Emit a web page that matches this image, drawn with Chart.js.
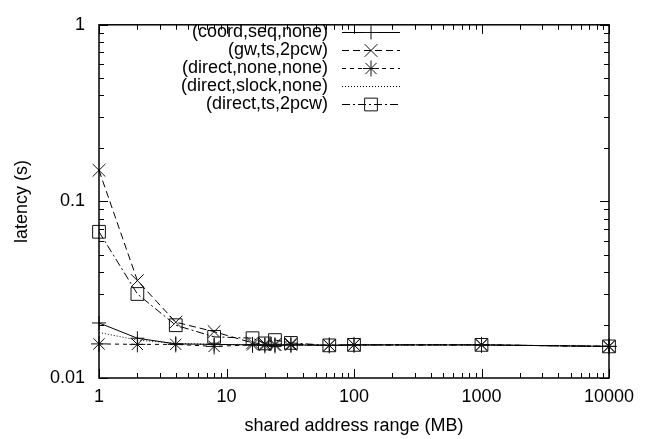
<!DOCTYPE html>
<html>
<head>
<meta charset="utf-8">
<script src="https://cdn.jsdelivr.net/npm/chart.js"></script>
<style>
  html, body { margin: 0; padding: 0; background: #fff; }
  #wrap { width: 647px; height: 439px; }
</style>
</head>
<body>
<div id="wrap"><canvas id="myChart" width="647" height="439"></canvas></div>
<script>
// shared address range (MB)
const xValues = [1, 2, 4, 8, 16, 20, 24, 32, 64, 100, 1000, 10000];

// latency (s) per configuration
const coordSeqNone = [0.0205, 0.0168, 0.0156, 0.0155, 0.0154, 0.0154, 0.0154, 0.0154, 0.0153, 0.0154, 0.0154, 0.0151];
const gwTs2pcw = [0.150, 0.0356, 0.0207, 0.0183, 0.0158, 0.0156, 0.0155, 0.0156, 0.0153, 0.0154, 0.0154, 0.0151];
const directNoneNone = [0.0156, 0.0155, 0.0155, 0.0151, 0.0154, 0.0153, 0.0153, 0.0154, 0.0153, 0.0154, 0.0154, 0.0151];
const directSlockNone = [0.0181, 0.0164, 0.0157, 0.0155, 0.0154, 0.0154, 0.0154, 0.0154, 0.0153, 0.0154, 0.0154, 0.0151];
const directTs2pcw = [0.0673, 0.0299, 0.0199, 0.0171, 0.0168, 0.0157, 0.0164, 0.0158, 0.0153, 0.0154, 0.0154, 0.0151];

const seriesLabels = ['(coord,seq,none)', '(gw,ts,2pcw)', '(direct,none,none)', '(direct,slock,none)', '(direct,ts,2pcw)'];
const xTickValues = [1, 10, 100, 1000, 10000];
const yTickValues = [0.01, 0.1, 1];

const FONT = '"Liberation Sans", Arial, Helvetica, sans-serif';
const FSIZE = 18;
const INK = '#000';

const styles = [
  { dash: [], point: 'cross', r: 7 },
  { dash: [7, 4], point: 'crossRot', r: 9 },
  { dash: [4, 4], point: 'star', r: 8 },
  { dash: [1, 2], point: false, r: 0 },
  { dash: [8, 3, 2, 3], point: 'rect', r: 9 }
];
const seriesData = [coordSeqNone, gwTs2pcw, directNoneNone, directSlockNone, directTs2pcw];

const datasets = seriesData.map((vals, i) => ({
  label: seriesLabels[i],
  data: vals.map((v, j) => ({ x: xValues[j], y: v })),
  borderColor: INK,
  borderWidth: 1,
  borderDash: styles[i].dash,
  pointStyle: styles[i].point,
  pointRadius: styles[i].r,
  pointBorderColor: '#111',
  pointBackgroundColor: 'rgba(0,0,0,0)',
  pointBorderWidth: 1,
  fill: false,
  tension: 0,
  clip: false
}));

// gnuplot-like frame with inward ticks on all four sides + legend
const framePlugin = {
  id: 'frame',
  afterDatasetsDraw(chart) {
    const ctx = chart.ctx;
    const a = chart.chartArea;
    const xs = chart.scales.x, ys = chart.scales.y;
    ctx.save();
    ctx.strokeStyle = INK;
    ctx.lineWidth = 1.5;
    ctx.setLineDash([]);
    ctx.strokeRect(a.left, a.top, a.right - a.left, a.bottom - a.top);

    ctx.lineWidth = 1;
    const tick = (vals, len, isX) => {
      vals.forEach(v => {
        if (isX) {
          const p = Math.round(xs.getPixelForValue(v)) + 0.5;
          ctx.beginPath();
          ctx.moveTo(p, a.bottom); ctx.lineTo(p, a.bottom - len);
          ctx.moveTo(p, a.top); ctx.lineTo(p, a.top + len);
          ctx.stroke();
        } else {
          const p = Math.round(ys.getPixelForValue(v)) + 0.5;
          ctx.beginPath();
          ctx.moveTo(a.left, p); ctx.lineTo(a.left + len, p);
          ctx.moveTo(a.right, p); ctx.lineTo(a.right - len, p);
          ctx.stroke();
        }
      });
    };
    const minors = (lo, hi) => {
      const out = [];
      for (let d = lo; d < hi; d *= 10) for (let k = 2; k <= 9; k++) out.push(d * k);
      return out;
    };
    tick(xTickValues, 9, true);
    tick(minors(1, 10000), 5, true);
    tick(yTickValues, 9, false);
    tick(minors(0.01, 1), 5, false);

    // legend
    ctx.font = FSIZE + 'px ' + FONT;
    ctx.textAlign = 'right';
    ctx.textBaseline = 'middle';
    const rowY = [32, 50, 68, 86, 104];
    const x0 = 342, x1 = 400, xm = 371, textRight = 328;
    seriesLabels.forEach((lab, i) => {
      const y = rowY[i];
      ctx.fillStyle = INK;
      ctx.fillText(lab, textRight, y);
      ctx.strokeStyle = INK;
      ctx.beginPath();
      ctx.setLineDash(styles[i].dash);
      ctx.moveTo(x0, y + 0.5); ctx.lineTo(x1, y + 0.5);
      ctx.stroke();
      ctx.setLineDash([]);
      if (styles[i].point) {
        ctx.fillStyle = 'rgba(0,0,0,0)';
        ctx.strokeStyle = '#111';
        Chart.helpers.drawPoint(ctx, {
          pointStyle: styles[i].point,
          radius: styles[i].r,
          borderWidth: 1
        }, xm, y + 0.5);
      }
    });
    ctx.restore();
  }
};

new Chart(document.getElementById('myChart'), {
  type: 'line',
  data: { datasets: datasets },
  options: {
    responsive: false,
    animation: false,
    layout: { padding: { top: 11, right: 38, bottom: 2, left: 0 } },
    plugins: { legend: { display: false }, tooltip: { enabled: false } },
    scales: {
      x: {
        type: 'logarithmic',
        min: 1, max: 10000,
        grid: { display: false, drawTicks: false },
        border: { display: false },
        afterBuildTicks: s => { s.ticks = xTickValues.map(v => ({ value: v })); },
        ticks: {
          color: INK, padding: 8, maxRotation: 0, autoSkip: false,
          font: { family: FONT, size: FSIZE },
          callback: v => String(v)
        },
        title: {
          display: true, text: 'shared address range (MB)', color: INK,
          font: { family: FONT, size: FSIZE }, padding: { top: 4, bottom: 0 }
        },
        afterFit: s => { s.height = 439 - 378 - 2; }
      },
      y: {
        type: 'logarithmic',
        min: 0.01, max: 1,
        grid: { display: false, drawTicks: false },
        border: { display: false },
        afterBuildTicks: s => { s.ticks = yTickValues.map(v => ({ value: v })); },
        ticks: {
          color: INK, padding: 14, autoSkip: false,
          font: { family: FONT, size: FSIZE },
          callback: v => String(v)
        },
        title: {
          display: true, text: 'latency (s)', color: INK,
          font: { family: FONT, size: FSIZE }, padding: { top: 11, bottom: 0 }
        },
        afterFit: s => { s.width = 99; }
      }
    }
  },
  plugins: [framePlugin]
});
</script>
</body>
</html>
